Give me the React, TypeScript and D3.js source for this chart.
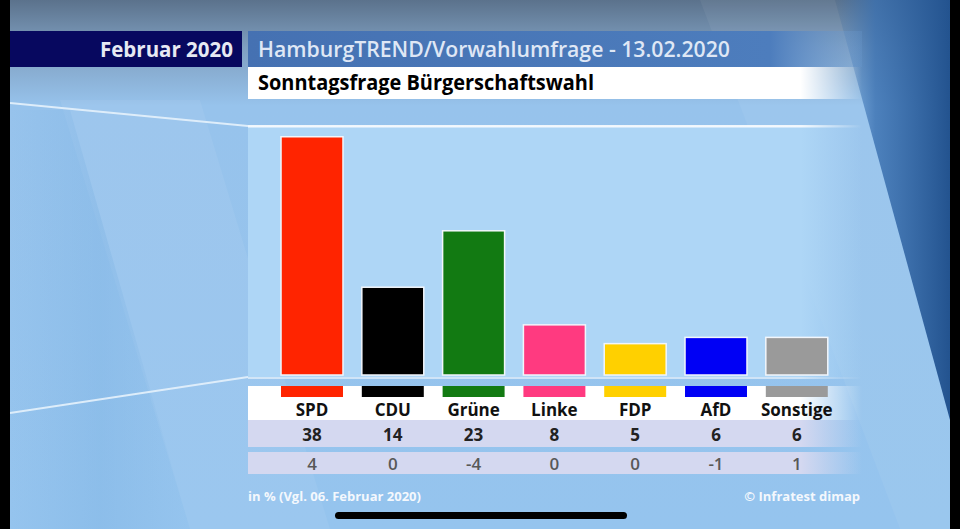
import * as d3 from 'd3';

const PARTIES = ['SPD', 'CDU', 'Grüne', 'Linke', 'FDP', 'AfD', 'Sonstige'];
const SHARES = [38, 14, 23, 8, 5, 6, 6];
const CHANGES = [4, 0, -4, 0, 0, -1, 1];
const PARTY_COLORS = ['#ff2400', '#000000', '#127a12', '#ff3a80', '#ffd000', '#0000f5', '#9a9a9a'];

const W = 960;
const H = 529;
const FONT = '"Open Sans", "Noto Sans", sans-serif';

// chart panel geometry
const PANEL_L = 248;
const PANEL_R = 862;
const BASE_Y = 375;

export default function App() {
  const x = d3.scaleBand<string>().domain(PARTIES).range([271.6, 837.2]).paddingInner(0.233).paddingOuter(0.1165);
  const y = d3.scaleLinear().domain([0, 40]).range([BASE_Y, BASE_Y - 40 * 6.27]);
  const bw = x.bandwidth();

  const fadeRow = (id: string, color: string) => (
    <linearGradient id={id} x1={PANEL_L} x2={PANEL_R} y1={0} y2={0} gradientUnits="userSpaceOnUse">
      <stop offset="0" stopColor={color} stopOpacity={1} />
      <stop offset="0.9" stopColor={color} stopOpacity={1} />
      <stop offset="1" stopColor={color} stopOpacity={0} />
    </linearGradient>
  );

  return (
    <div style={{ position: 'fixed', left: 0, top: 0, width: W, height: H }}>
      <svg width={W} height={H} style={{ display: 'block' }} fontFamily={FONT}>
        <defs>
          <linearGradient id="bgTop" x1="0" x2="0" y1="0" y2="1">
            <stop offset="0" stopColor="#5b728c" />
            <stop offset="0.09" stopColor="#7f9fc0" />
            <stop offset="0.2" stopColor="#97c3ec" />
            <stop offset="1" stopColor="#95c4ee" />
          </linearGradient>
          <linearGradient id="rightWedge" x1="0" x2="1" y1="0" y2="0">
            <stop offset="0" stopColor="#3d74b4" stopOpacity={0} />
            <stop offset="0.35" stopColor="#3a70b0" stopOpacity={0.8} />
            <stop offset="1" stopColor="#23538f" stopOpacity={1} />
          </linearGradient>
          <linearGradient id="headBlue" x1={PANEL_L} x2={PANEL_R} y1={0} y2={0} gradientUnits="userSpaceOnUse">
            <stop offset="0" stopColor="#4571b2" />
            <stop offset="0.85" stopColor="#4d7dbd" />
            <stop offset="1" stopColor="#6f9fd6" stopOpacity={0.2} />
          </linearGradient>
          <linearGradient id="leftBand" x1="0" x2="1" y1="0" y2="0">
            <stop offset="0" stopColor="#7fb4e4" stopOpacity={0} />
            <stop offset="0.5" stopColor="#7fb4e4" stopOpacity={0.4} />
            <stop offset="1" stopColor="#7fb4e4" stopOpacity={0} />
          </linearGradient>
          {fadeRow('rowWhite', '#ffffff')}
          {fadeRow('rowLav', '#d4d8f0')}
          {fadeRow('panelFill', '#aed6f6')}
        </defs>

        {/* background */}
        <rect x={0} y={0} width={W} height={H} fill="url(#bgTop)" />
        <polygon points="60,100 200,100 330,529 190,529" fill="#ffffff" opacity={0.06} />
        <polygon points="10,110 70,110 190,529 10,529" fill="url(#leftBand)" />
        <polygon points="835,0 950,0 950,420" fill="url(#rightWedge)" />
        <polygon points="700,0 835,0 950,420 950,529 900,529" fill="#ffffff" opacity={0.05} />

        {/* decorative white lines */}
        <line x1={10} y1={103} x2={PANEL_L} y2={126} stroke="#e6f2fc" strokeWidth={2} opacity={0.9} />
        <line x1={10} y1={413} x2={PANEL_L} y2={377} stroke="#e6f2fc" strokeWidth={2} opacity={0.9} />

        {/* chart panel */}
        <rect x={PANEL_L} y={126} width={PANEL_R - PANEL_L} height={BASE_Y - 126 + 2} fill="url(#panelFill)" />
        <rect x={PANEL_L} y={125} width={PANEL_R - PANEL_L} height={2.5} fill="url(#rowWhite)" opacity={0.85} />
        <rect x={PANEL_L} y={377} width={PANEL_R - PANEL_L} height={2} fill="url(#rowWhite)" opacity={0.55} />

        {/* header */}
        <rect x={10} y={31} width={232} height={36} fill="#07085f" />
        <text x={233} y={57} textAnchor="end" fill="#e6e9f3" fontSize={21} fontWeight={700} textLength={133} lengthAdjust="spacingAndGlyphs">
          Februar 2020
        </text>
        <rect x={PANEL_L} y={31} width={PANEL_R - PANEL_L} height={36} fill="url(#headBlue)" />
        <text x={258} y={57} fill="#dfe7f5" fontSize={21} fontWeight={600} textLength={472} lengthAdjust="spacingAndGlyphs">
          HamburgTREND/Vorwahlumfrage - 13.02.2020
        </text>
        <rect x={PANEL_L} y={67} width={PANEL_R - PANEL_L} height={32} fill="url(#rowWhite)" />
        <text x={258} y={90} fill="#000" fontSize={21} fontWeight={700} textLength={336} lengthAdjust="spacingAndGlyphs">
          Sonntagsfrage Bürgerschaftswahl
        </text>

        {/* table rows */}
        <rect x={PANEL_L} y={386} width={PANEL_R - PANEL_L} height={34} fill="url(#rowWhite)" />
        <rect x={PANEL_L} y={420} width={PANEL_R - PANEL_L} height={27} fill="url(#rowLav)" />
        <rect x={PANEL_L} y={452} width={PANEL_R - PANEL_L} height={22} fill="url(#rowLav)" />

        {/* bars */}
        {PARTIES.map((p, i) => (
          <g key={p}>
            <rect
              x={x(p)}
              y={y(SHARES[i])}
              width={bw}
              height={BASE_Y - y(SHARES[i])}
              fill={PARTY_COLORS[i]}
              stroke="#f2f6fb"
              strokeWidth={1.5}
            />
            <rect x={x(p)} y={386} width={bw} height={11} fill={PARTY_COLORS[i]} />
            <text x={(x(p) ?? 0) + bw / 2} y={416} textAnchor="middle" fontSize={17} fontWeight={700} fill="#111">
              {p}
            </text>
            <text x={(x(p) ?? 0) + bw / 2} y={441} textAnchor="middle" fontSize={17} fontWeight={700} fill="#222">
              {SHARES[i]}
            </text>
            <text x={(x(p) ?? 0) + bw / 2} y={470} textAnchor="middle" fontSize={17} fontWeight={600} fill="#585858">
              {CHANGES[i]}
            </text>
          </g>
        ))}

        {/* footer */}
        <text x={248} y={501} fill="#f4f8fd" fontSize={13} fontWeight={700}>
          in % (Vgl. 06. Februar 2020)
        </text>
        <text x={860} y={501} textAnchor="end" fill="#f4f8fd" fontSize={13} fontWeight={700}>
          © Infratest dimap
        </text>

        {/* phone frame bits */}
        <rect x={0} y={0} width={10} height={H} fill="#000" />
        <rect x={950} y={0} width={10} height={H} fill="#000" />
        <rect x={335} y={512} width={292} height={7} rx={3.5} fill="#000" />
      </svg>
    </div>
  );
}
